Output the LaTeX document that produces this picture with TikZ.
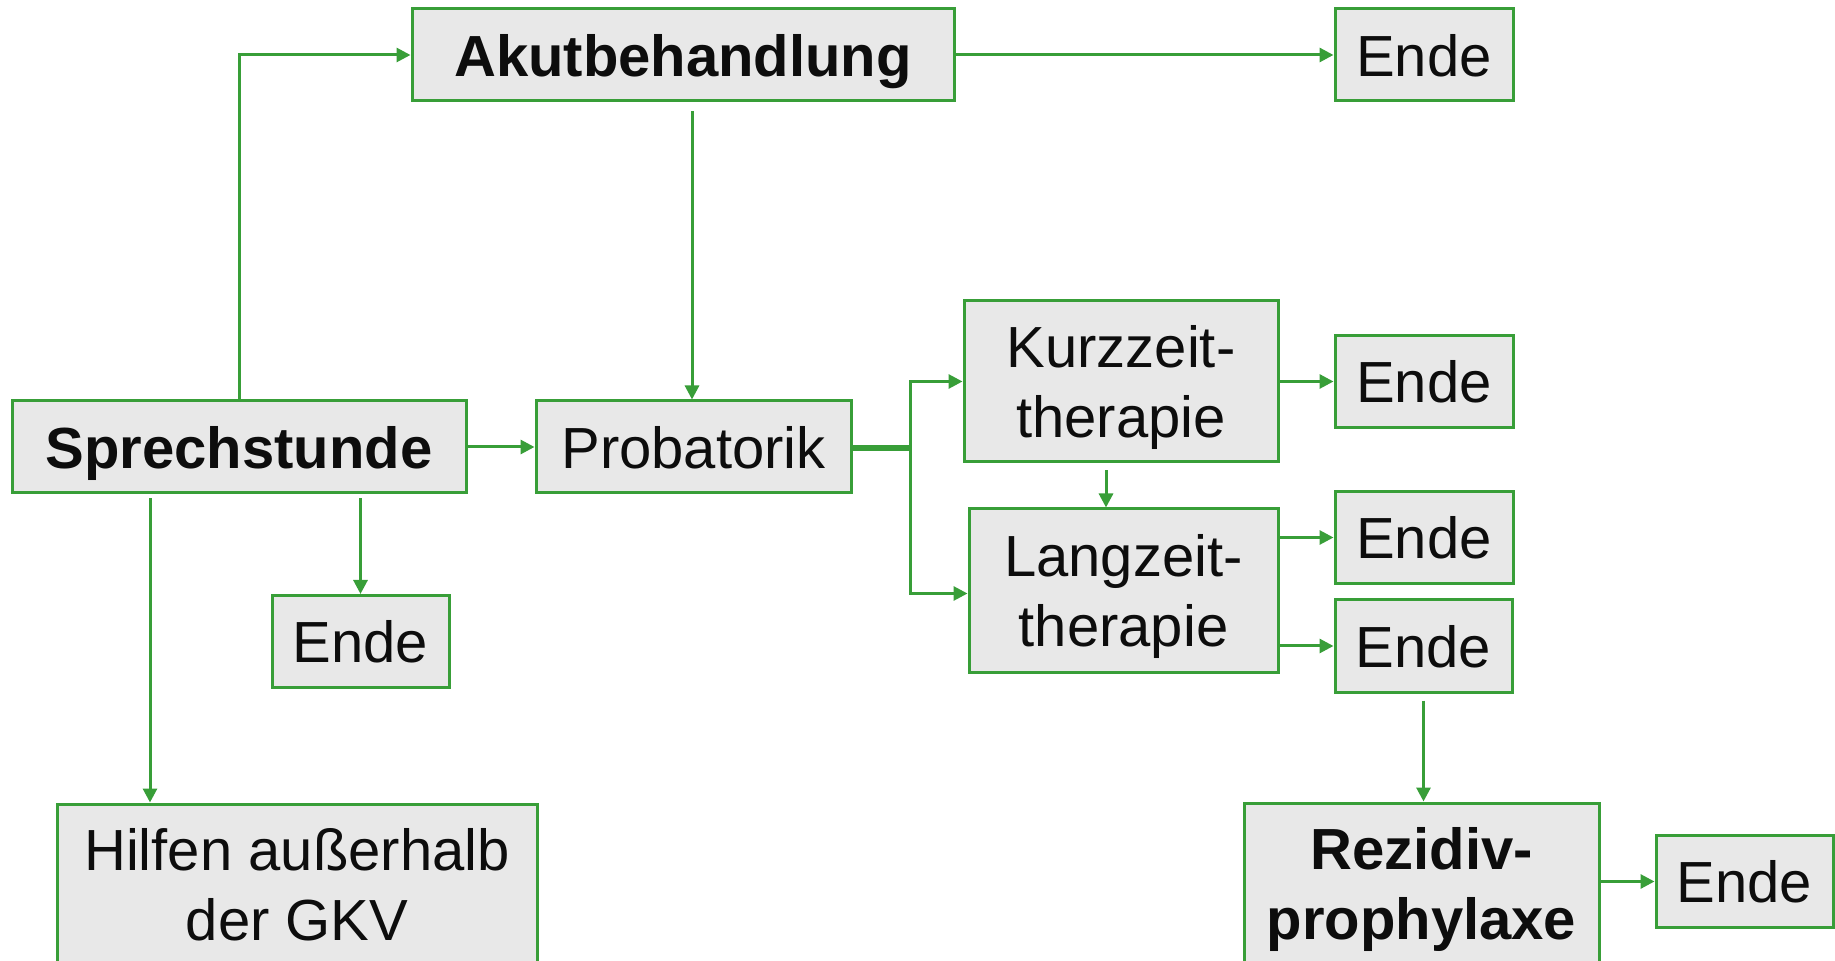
\documentclass[tikz,border=0pt]{standalone}
\usepackage{fontspec}
\setmainfont{Liberation Sans}
\usetikzlibrary{arrows.meta}
\definecolor{gr}{RGB}{56,158,56}
\definecolor{bx}{RGB}{232,232,232}
\definecolor{tx}{RGB}{13,13,13}
\begin{document}
\begin{tikzpicture}[x=0.5pt,y=-0.5pt,
  box/.style={draw=gr,fill=bx,line width=1.5pt,inner sep=0pt,align=center,text=tx,text depth=0pt,
    font=\fontsize{29pt}{35pt}\selectfont},
  boldbox/.style={box,font=\fontsize{29pt}{35pt}\selectfont\bfseries},
  conn/.style={draw=gr,line width=1.5pt,-{Triangle[length=7pt,width=7pt]}}]
\useasboundingbox (0,0) rectangle (1835,961);
\node[boldbox,minimum width=271pt,minimum height=46pt] (akut) at (683,55) {Akutbehandlung};
\node[box,minimum width=89pt,minimum height=46pt] (e1) at (1424,55) {Ende};
\node[boldbox,minimum width=227pt,minimum height=46pt] (spr) at (239,447) {Sprechstunde};
\node[box,minimum width=157.5pt,minimum height=46pt] (prob) at (693.5,447) {Probatorik};
\node[box,minimum width=157pt,minimum height=80.5pt] (kurz) at (1121,381.5) {Kurzzeit-\\therapie};
\node[box,minimum width=89pt,minimum height=46pt] (e2) at (1424,381.5) {Ende};
\node[box,minimum width=154.5pt,minimum height=81.5pt] (lang) at (1123.5,590.5) {Langzeit-\\therapie};
\node[box,minimum width=89pt,minimum height=46pt] (e3) at (1424,537.5) {Ende};
\node[box,minimum width=88.5pt,minimum height=46pt] (e4) at (1423.5,646) {Ende};
\node[box,minimum width=88.5pt,minimum height=46pt] (e0) at (360.5,641.5) {Ende};
\node[box,minimum width=240pt,minimum height=80.5pt] (hilf) at (297,884.5) {Hilfen außerhalb\\der GKV};
\node[boldbox,minimum width=177.5pt,minimum height=80.5pt] (rez) at (1421.5,883.5) {Rezidiv-\\prophylaxe};
\node[box,minimum width=88.5pt,minimum height=46pt] (e5) at (1744.5,881.5) {Ende};
\coordinate (hx) at (150,0);
\coordinate (kx) at (1106,0);
\coordinate (ax) at (692,0);
\coordinate (bx) at (910,0);
% connectors
\draw[conn] (spr.north) |- (akut.west);
\draw[conn] (akut.east) -- (e1.west);
\draw[conn,shorten <=4.5pt] (ax |- akut.south) -- (ax |- prob.north);
\draw[conn] (spr.east) -- (prob.west);
\draw[conn,shorten <=2pt] (e0 |- spr.south) -- (e0.north);
\draw[conn,shorten <=2pt] (hx |- spr.south) -- (hx |- hilf.north);
\draw[conn] (prob.east) -- (bx |- prob.east) |- (kurz.west);
\draw[conn] ([yshift=-1.5pt]prob.east) -- ([yshift=-1.5pt]bx |- prob.east) |- ([yshift=-1.5pt]lang.west);
\draw[conn] (kurz.east) -- (e2.west);
\draw[conn,shorten <=3.5pt] (kx |- kurz.south) -- (kx |- lang.north);
\draw[conn] (lang.east |- e3) -- (e3.west);
\draw[conn] (lang.east |- e4) -- (e4.west);
\draw[conn,shorten <=3.5pt] (e4.south) -- (e4 |- rez.north);
\draw[conn] (rez.east |- e5) -- (e5.west);
\end{tikzpicture}
\end{document}
